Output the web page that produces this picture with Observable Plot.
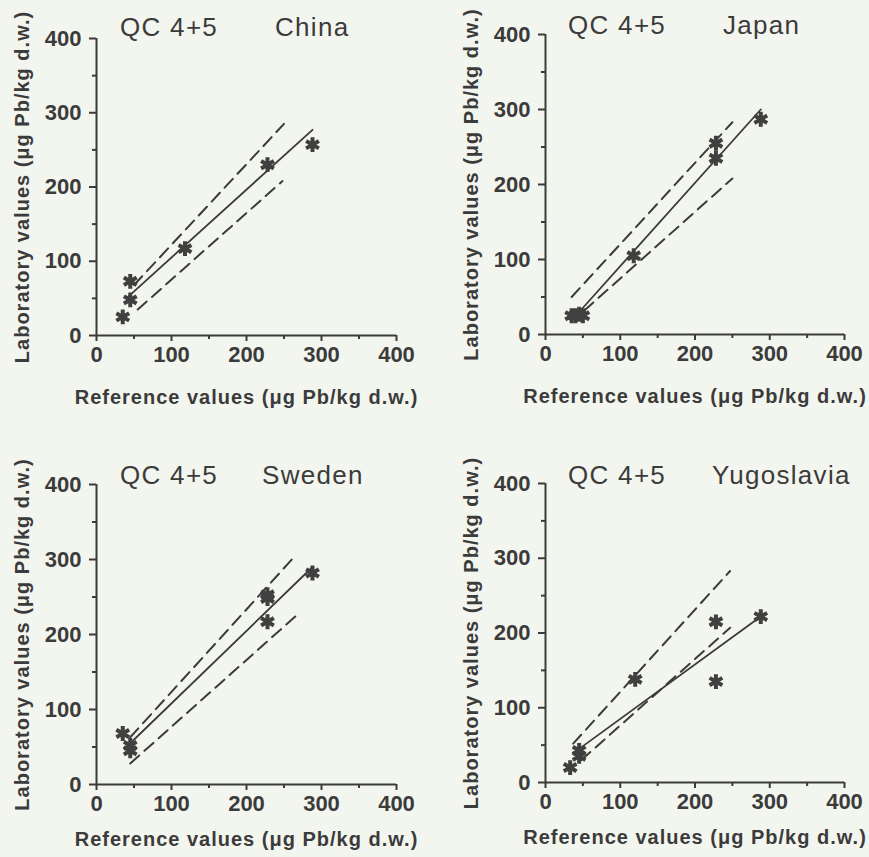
<!DOCTYPE html>
<html><head><meta charset="utf-8">
<script src="https://cdn.jsdelivr.net/npm/d3@7"></script>
<script src="https://cdn.jsdelivr.net/npm/@observablehq/plot@0.6"></script>
<style>
html,body{margin:0;padding:0;background:#f3f6ee;}
#wrap{position:relative;width:869px;height:857px;background:#f3f6ee;overflow:hidden;}
.panel{position:absolute;}
.title{position:absolute;font-family:"Liberation Sans",Arial,sans-serif;font-size:26px;color:#3b3b3b;letter-spacing:1.3px;white-space:nowrap;}
.title span.c{position:absolute;top:0;}
.panel svg g[aria-label="x-axis label"] text, .panel svg g[aria-label="y-axis label"] text{letter-spacing:1px;}
</style></head>
<body><div id="wrap"></div>
<script>
// ---- data ----
const seriesTitle = "QC 4+5";
const countries = ["China", "Japan", "Sweden", "Yugoslavia"];
const xLabel = "Reference values (\u03bcg Pb/kg d.w.)";
const yLabel = "Laboratory values (\u03bcg Pb/kg d.w.)";
const majorTicks = [0, 100, 200, 300, 400];
const minorTicks = [50, 150, 250, 350];

const chinaRef = [35, 45, 45, 118, 228, 288];
const chinaLab = [25, 48, 73, 117, 230, 257];
const chinaFitX = [42, 288], chinaFitY = [52, 277];
const chinaUpX = [50, 250], chinaUpY = [68, 285];
const chinaLoX = [55, 248], chinaLoY = [35, 208];

const japanRef = [35, 40, 45, 50, 118, 228, 228, 288];
const japanLab = [25, 25, 27, 25, 105, 255, 235, 287];
const japanFitX = [45, 288], japanFitY = [30, 300];
const japanUpX = [35, 250], japanUpY = [50, 283];
const japanLoX = [52, 250], japanLoY = [32, 208];

const swedenRef = [35, 45, 45, 228, 228, 228, 288];
const swedenLab = [68, 52, 45, 253, 248, 217, 282];
const swedenFitX = [45, 288], swedenFitY = [55, 290];
const swedenUpX = [45, 265], swedenUpY = [63, 305];
const swedenLoX = [45, 265], swedenLoY = [28, 224];

const yugoRef = [33, 45, 45, 120, 228, 228, 288];
const yugoLab = [20, 43, 35, 138, 215, 135, 222];
const yugoFitX = [45, 288], yugoFitY = [45, 222];
const yugoUpX = [37, 247], yugoUpY = [52, 283];
const yugoLoX = [48, 247], yugoLoY = [30, 207];

// ---- layout ----
const INK = "#3b3b3b";
const FONT = "'Liberation Sans', Arial, sans-serif";
const panels = [
  {name: countries[0], ref: chinaRef, lab: chinaLab, fit: [chinaFitX, chinaFitY], up: [chinaUpX, chinaUpY], lo: [chinaLoX, chinaLoY],
   left: 0, top: 0, w: 434, h: 420, ml: 96, mr: 38, mt: 38, mb: 85, xlo: 68, tx: 120, ty: 12, cx: 155},
  {name: countries[1], ref: japanRef, lab: japanLab, fit: [japanFitX, japanFitY], up: [japanUpX, japanUpY], lo: [japanLoX, japanLoY],
   left: 435, top: 0, w: 434, h: 420, ml: 110, mr: 25, mt: 34, mb: 86, xlo: 68, tx: 133, ty: 10, cx: 155},
  {name: countries[2], ref: swedenRef, lab: swedenLab, fit: [swedenFitX, swedenFitY], up: [swedenUpX, swedenUpY], lo: [swedenLoX, swedenLoY],
   left: 0, top: 430, w: 434, h: 427, ml: 96, mr: 38, mt: 54, mb: 73, xlo: 61, tx: 120, ty: 30, cx: 142},
  {name: countries[3], ref: yugoRef, lab: yugoLab, fit: [yugoFitX, yugoFitY], up: [yugoUpX, yugoUpY], lo: [yugoLoX, yugoLoY],
   left: 435, top: 430, w: 434, h: 427, ml: 110, mr: 25, mt: 53, mb: 75, xlo: 61, tx: 133, ty: 30, cx: 144}
];

const wrap = document.getElementById("wrap");
const toRows = (xs, ys) => xs.map((x, k) => ({ref: x, lab: ys[k]}));

for (const p of panels) {
  const pts = toRows(p.ref, p.lab);
  const fit = toRows(p.fit[0], p.fit[1]);
  const up = toRows(p.up[0], p.up[1]);
  const lo = toRows(p.lo[0], p.lo[1]);
  const chart = Plot.plot({
    width: p.w, height: p.h,
    marginLeft: p.ml, marginRight: p.mr, marginTop: p.mt, marginBottom: p.mb,
    style: {background: "transparent", color: INK, fontFamily: FONT, fontSize: "19px", fontWeight: "bold"},
    x: {domain: [0, 400]},
    y: {domain: [0, 400]},
    marks: [
      Plot.axisX(majorTicks, {tickSize: 6, tickPadding: 5, strokeWidth: 2, fontSize: 22, fontWeight: "bold", fontFamily: FONT, label: null}),
      Plot.axisX(majorTicks, {tickSize: 0, text: null, label: xLabel, labelArrow: "none", labelAnchor: "center", labelOffset: p.xlo, fontSize: 20, fontWeight: "bold"}),
      Plot.axisX(minorTicks, {tickSize: 4, strokeWidth: 2, text: null, label: null}),
      Plot.axisY(majorTicks, {tickSize: 7, tickPadding: 8, strokeWidth: 2, fontSize: 22, fontWeight: "bold", fontFamily: FONT, label: null}),
      Plot.axisY(majorTicks, {tickSize: 0, text: null, label: yLabel, labelArrow: "none", labelAnchor: "center", labelOffset: 82, fontSize: 20, fontWeight: "bold"}),
      Plot.axisY(minorTicks, {tickSize: 4, strokeWidth: 2, text: null, label: null}),
      Plot.ruleX([0], {y1: 0, y2: 400, stroke: INK, strokeWidth: 2}),
      Plot.ruleY([0], {x1: 0, x2: 400, stroke: INK, strokeWidth: 2}),
      Plot.line(up, {x: "ref", y: "lab", stroke: INK, strokeWidth: 2, strokeDasharray: "12,7"}),
      Plot.line(lo, {x: "ref", y: "lab", stroke: INK, strokeWidth: 2, strokeDasharray: "12,7"}),
      Plot.line(fit, {x: "ref", y: "lab", stroke: INK, strokeWidth: 1.8}),
      Plot.dot(pts, {x: "ref", y: "lab", symbol: "asterisk", r: 7, stroke: "#404040", strokeWidth: 4})
    ]
  });
  const div = document.createElement("div");
  div.className = "panel";
  div.style.left = p.left + "px";
  div.style.top = p.top + "px";
  div.appendChild(chart);
  wrap.appendChild(div);

  const t = document.createElement("div");
  t.className = "title";
  t.style.left = (p.left + p.tx) + "px";
  t.style.top = (p.top + p.ty) + "px";
  const s1 = document.createElement("span");
  s1.textContent = seriesTitle;
  const s2 = document.createElement("span");
  s2.className = "c";
  s2.style.left = p.cx + "px";
  s2.textContent = p.name;
  t.appendChild(s1); t.appendChild(s2);
  wrap.appendChild(t);
}
</script>
</body></html>
